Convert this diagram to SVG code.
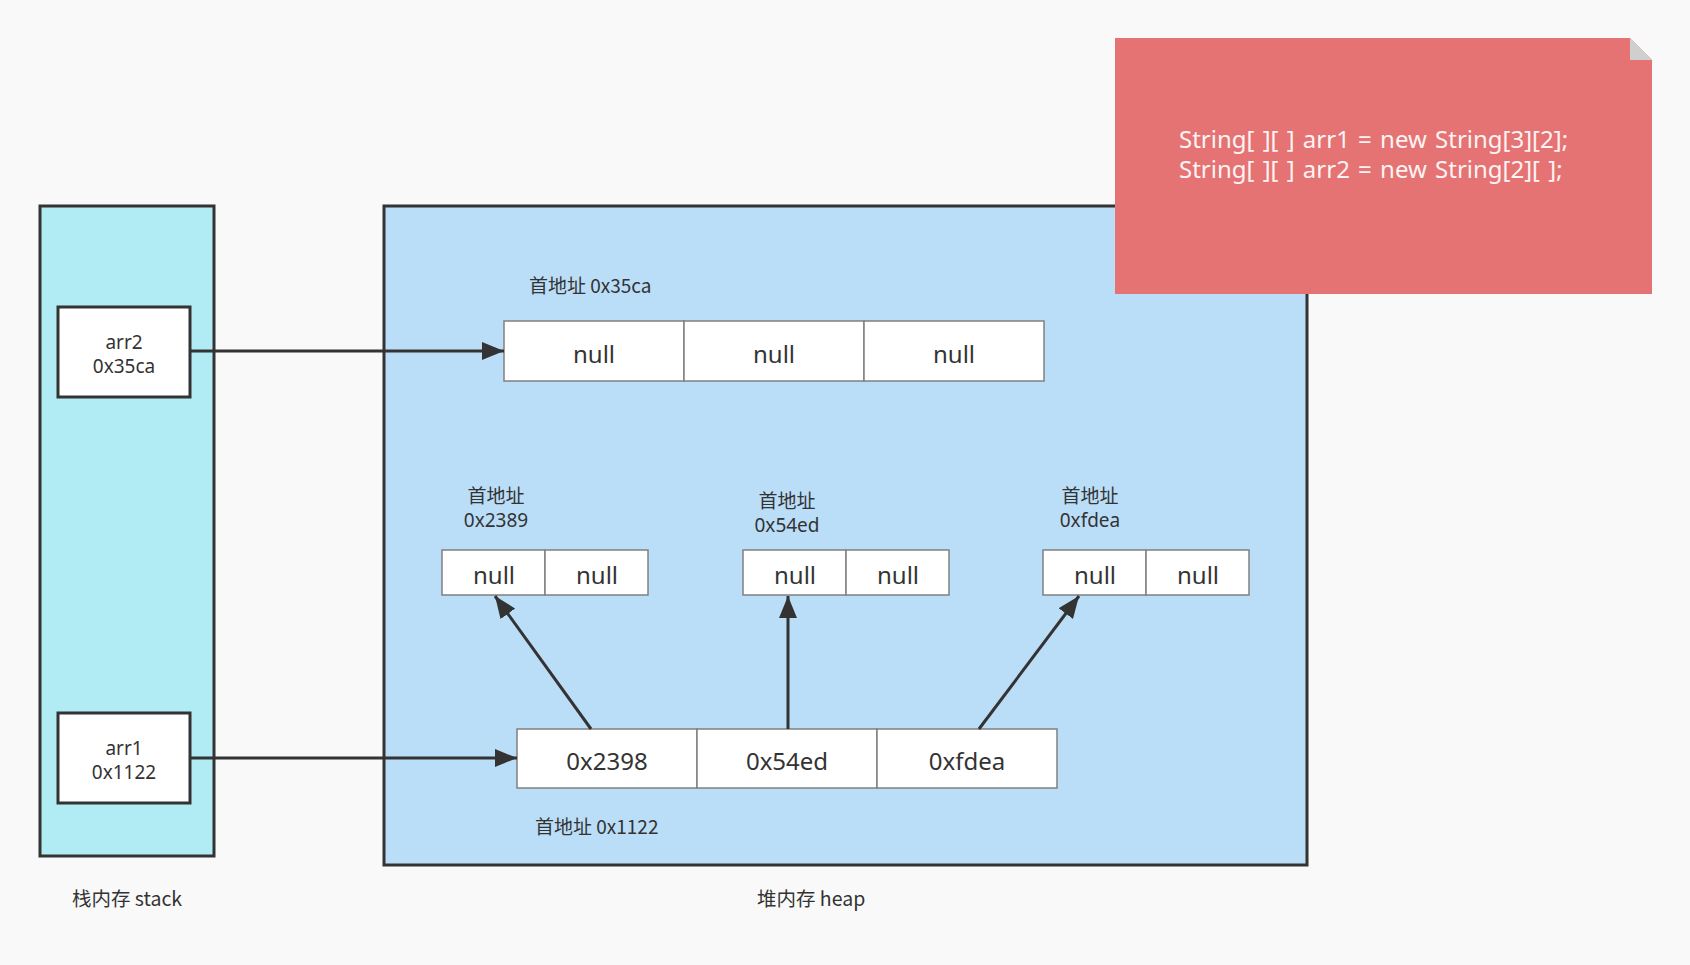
<svg xmlns="http://www.w3.org/2000/svg" width="1690" height="965" viewBox="0 0 1690 965">
  <defs>
    <style>
      .t { font-family: "Segoe UI", "Noto Sans", "Noto Sans CJK SC", sans-serif; fill: #333; }
      .cjk { font-family: "Noto Sans CJK SC", "Noto Sans", sans-serif; fill: #333; }
      .region { stroke: #333; stroke-width: 3; }
      .ref { fill: #fff; stroke: #333; stroke-width: 3; }
      .cell { fill: #fff; stroke: #808080; stroke-width: 1.5; }
      .edge { stroke: #333; stroke-width: 3; fill: none; marker-end: url(#arrow); }
    </style>
    <marker id="arrow" markerUnits="userSpaceOnUse" markerWidth="24" markerHeight="18" refX="22" refY="9" orient="auto">
      <path d="M0,0 L22,9 L0,18 Z" fill="#333"/>
    </marker>
  </defs>

  <rect width="1690" height="965" fill="#f9f9f9"/>

  <!-- memory regions -->
  <g id="stack">
    <rect class="region" x="40" y="206" width="174" height="650" fill="#b1ebf3"/>
    <text class="cjk" x="72" y="906" font-size="19.5">栈内存 stack</text>
  </g>
  <g id="heap">
    <rect class="region" x="384" y="206" width="923" height="659" fill="#bbdef8"/>
    <text class="cjk" x="757" y="906" font-size="19.5">堆内存 heap</text>
  </g>

  <!-- stack references -->
  <g id="arr2">
    <rect class="ref" x="58" y="307" width="132" height="90"/>
    <text class="t" x="124" y="349" font-size="19" text-anchor="middle">arr2</text>
    <text class="t" x="124" y="373" font-size="19" text-anchor="middle">0x35ca</text>
  </g>
  <g id="arr1">
    <rect class="ref" x="58" y="713" width="132" height="90"/>
    <text class="t" x="124" y="755" font-size="19" text-anchor="middle">arr1</text>
    <text class="t" x="124" y="779" font-size="19" text-anchor="middle">0x1122</text>
  </g>

  <!-- arr2 outer array -->
  <g id="array-0x35ca">
    <text class="cjk" x="529" y="293" font-size="19">首地址 0x35ca</text>
    <rect class="cell" x="504" y="321" width="180" height="60"/>
    <rect class="cell" x="684" y="321" width="180" height="60"/>
    <rect class="cell" x="864" y="321" width="180" height="60"/>
    <text class="t" x="594" y="363" font-size="24" text-anchor="middle">null</text>
    <text class="t" x="774" y="363" font-size="24" text-anchor="middle">null</text>
    <text class="t" x="954" y="363" font-size="24" text-anchor="middle">null</text>
  </g>

  <!-- arr1 outer array -->
  <g id="array-0x1122">
    <rect class="cell" x="517" y="729" width="180" height="59"/>
    <rect class="cell" x="697" y="729" width="180" height="59"/>
    <rect class="cell" x="877" y="729" width="180" height="59"/>
    <text class="t" x="607" y="770" font-size="24" text-anchor="middle">0x2398</text>
    <text class="t" x="787" y="770" font-size="24" text-anchor="middle">0x54ed</text>
    <text class="t" x="967" y="770" font-size="24" text-anchor="middle">0xfdea</text>
    <text class="cjk" x="535" y="834" font-size="19">首地址 0x1122</text>
  </g>

  <!-- inner arrays -->
  <g id="array-0x2389">
    <text class="cjk" x="496" y="503" font-size="19" text-anchor="middle">首地址</text>
    <text class="t" x="496" y="527" font-size="19" text-anchor="middle">0x2389</text>
    <rect class="cell" x="442" y="550" width="103" height="45"/>
    <rect class="cell" x="545" y="550" width="103" height="45"/>
    <text class="t" x="494" y="584" font-size="24" text-anchor="middle">null</text>
    <text class="t" x="597" y="584" font-size="24" text-anchor="middle">null</text>
  </g>
  <g id="array-0x54ed">
    <text class="cjk" x="787" y="508" font-size="19" text-anchor="middle">首地址</text>
    <text class="t" x="787" y="532" font-size="19" text-anchor="middle">0x54ed</text>
    <rect class="cell" x="743" y="550" width="103" height="45"/>
    <rect class="cell" x="846" y="550" width="103" height="45"/>
    <text class="t" x="795" y="584" font-size="24" text-anchor="middle">null</text>
    <text class="t" x="898" y="584" font-size="24" text-anchor="middle">null</text>
  </g>
  <g id="array-0xfdea">
    <text class="cjk" x="1090" y="503" font-size="19" text-anchor="middle">首地址</text>
    <text class="t" x="1090" y="527" font-size="19" text-anchor="middle">0xfdea</text>
    <rect class="cell" x="1043" y="550" width="103" height="45"/>
    <rect class="cell" x="1146" y="550" width="103" height="45"/>
    <text class="t" x="1095" y="584" font-size="24" text-anchor="middle">null</text>
    <text class="t" x="1198" y="584" font-size="24" text-anchor="middle">null</text>
  </g>

  <!-- code note -->
  <g id="note">
    <path d="M1115,38 L1630,38 L1652,60 L1652,294 L1115,294 Z" fill="#e57373"/>
    <path d="M1630,38 L1652,60 L1630,60 Z" fill="#cfcfcf"/>
    <text class="t" x="1179" y="148" font-size="24" word-spacing="2" style="fill:#fdf3f3">String[ ][ ] arr1 = new String[3][2];</text>
    <text class="t" x="1179" y="178" font-size="24" word-spacing="2" style="fill:#fdf3f3">String[ ][ ] arr2 = new String[2][ ];</text>
  </g>

  <!-- references -->
  <g id="connectors">
    <line class="edge" x1="190" y1="351" x2="504" y2="351"/>
    <line class="edge" x1="190" y1="758" x2="517" y2="758"/>
    <line class="edge" x1="591" y1="729" x2="495" y2="596"/>
    <line class="edge" x1="788" y1="729" x2="788" y2="596"/>
    <line class="edge" x1="979" y1="729" x2="1079" y2="596"/>
  </g>
</svg>
